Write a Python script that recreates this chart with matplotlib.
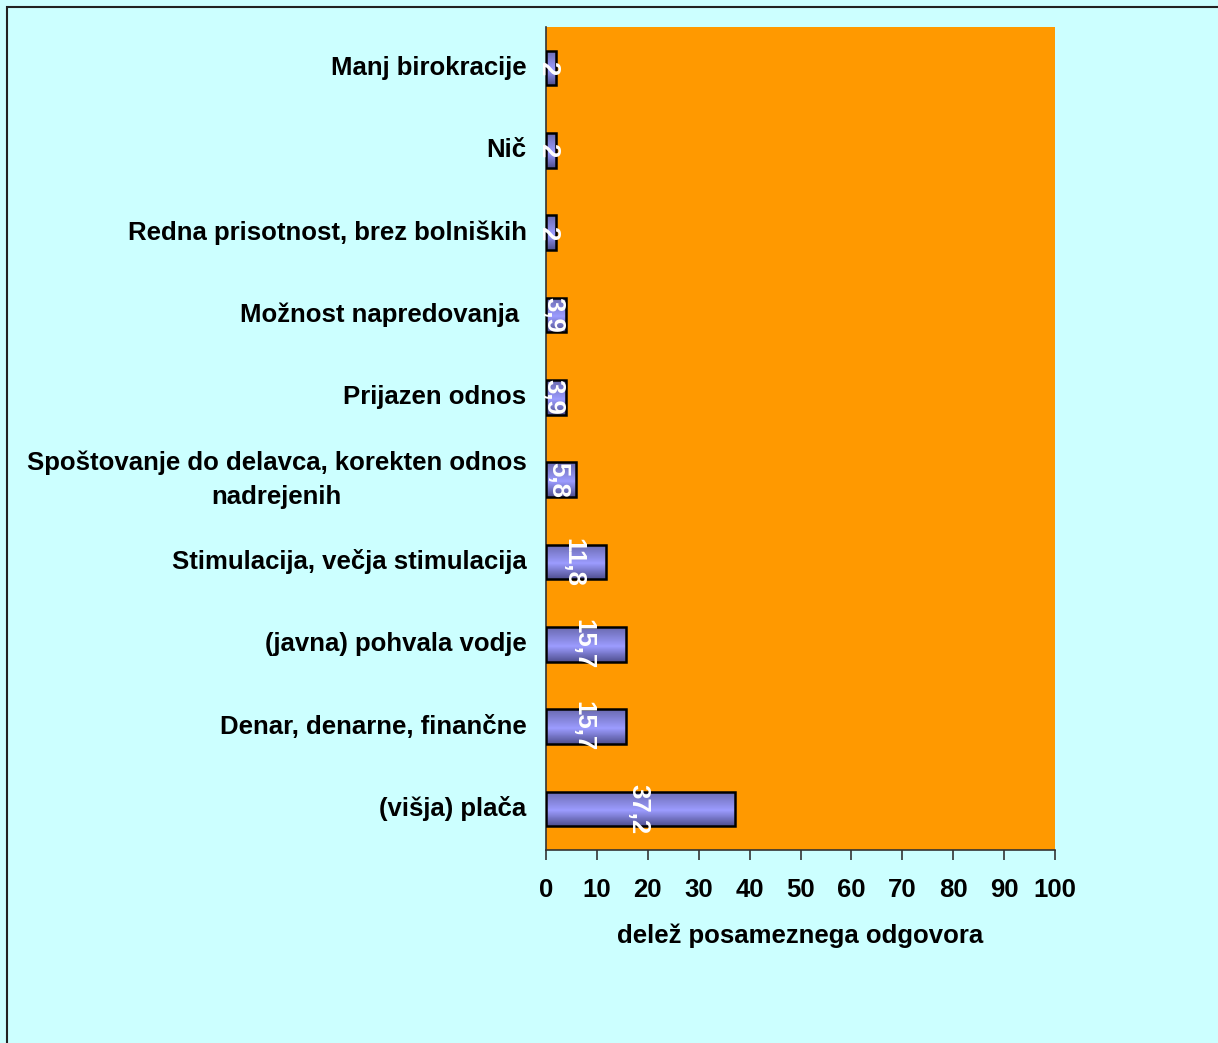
import matplotlib
matplotlib.use("Agg")
import matplotlib.pyplot as plt
import numpy as np
from matplotlib.colors import LinearSegmentedColormap
from matplotlib.patches import Rectangle

categories = [
    "(višja) plača",
    "Denar, denarne, finančne",
    "(javna) pohvala vodje",
    "Stimulacija, večja stimulacija",
    "Spoštovanje do delavca, korekten odnos\nnadrejenih",
    "Prijazen odnos",
    "Možnost napredovanja ",
    "Redna prisotnost, brez bolniških",
    "Nič",
    "Manj birokracije",
]
values = [37.2, 15.7, 15.7, 11.8, 5.8, 3.9, 3.9, 2, 2, 2]
value_labels = ["37,2", "15,7", "15,7", "11,8", "5,8", "3,9", "3,9", "2", "2", "2"]
xticks = [0, 10, 20, 30, 40, 50, 60, 70, 80, 90, 100]
xlabel = "delež posameznega odgovora"

plt.rcParams['font.family'] = ['Liberation Sans', 'DejaVu Sans']
plt.rcParams['font.weight'] = 'bold'

W, H = 1218, 1043
fig = plt.figure(figsize=(W / 100, H / 100), dpi=100, facecolor='#CCFFFF')

# outer border
fig.patches.append(Rectangle((7 / W, -0.1), 1.2, 1 - 7 / H + 0.1,
                             transform=fig.transFigure, fill=False,
                             edgecolor='#222222', linewidth=1.5))

ax = fig.add_axes([546 / W, 1 - 850 / H, (1055 - 546) / W, (850 - 27) / H])
ax.set_facecolor('#FF9900')

y = np.arange(len(categories))
bars = ax.barh(y, values, height=0.42, color='none', edgecolor='black',
               linewidth=1.8, zorder=3)

grad_cmap = LinearSegmentedColormap.from_list(
    'g', [(0.0, '#6A6AB0'), (0.55, '#9C9CFF'), (1.0, '#505090')])
grad = np.linspace(0, 1, 64).reshape(-1, 1)
for b in bars:
    x0, y0 = b.get_x(), b.get_y()
    w, h = b.get_width(), b.get_height()
    im = ax.imshow(grad, cmap=grad_cmap, aspect='auto',
                   extent=(x0, x0 + w, y0, y0 + h), origin='upper',
                   zorder=2, interpolation='bilinear')
    clip = Rectangle((x0, y0), w, h, transform=ax.transData)
    im.set_clip_path(clip)

for yi, v, lab in zip(y, values, value_labels):
    ax.text(v / 2 - 0.5, yi, lab, rotation=270, ha='center', va='center',
            color='white', fontsize=18.5, fontweight='bold', zorder=4,
            rotation_mode='anchor')

ax.set_xlim(0, 100)
ax.set_ylim(-0.5, len(categories) - 0.5)
ax.set_xticks(xticks)
ax.set_xticklabels([str(t) for t in xticks], fontsize=18.5, fontweight='bold')
ax.set_yticks(y)
ax.set_yticklabels(categories, fontsize=18.5, fontweight='bold')
for t in ax.get_yticklabels():
    t.set_multialignment('center')
    t.set_linespacing(1.5)
    t.set_verticalalignment('center')
ax.tick_params(axis='y', length=0, pad=14)
ax.tick_params(axis='x', length=7, width=1.2, color='#333333', pad=13,
               direction='out')
for s in ['top', 'right']:
    ax.spines[s].set_visible(False)
ax.spines['left'].set_color('#333333')
ax.spines['bottom'].set_color('#333333')
ax.spines['left'].set_linewidth(1.2)
ax.spines['bottom'].set_linewidth(1.2)
ax.set_xlabel(xlabel, fontsize=18.5, fontweight='bold', labelpad=16)

fig.savefig('out.png', dpi=100, facecolor=fig.get_facecolor())
